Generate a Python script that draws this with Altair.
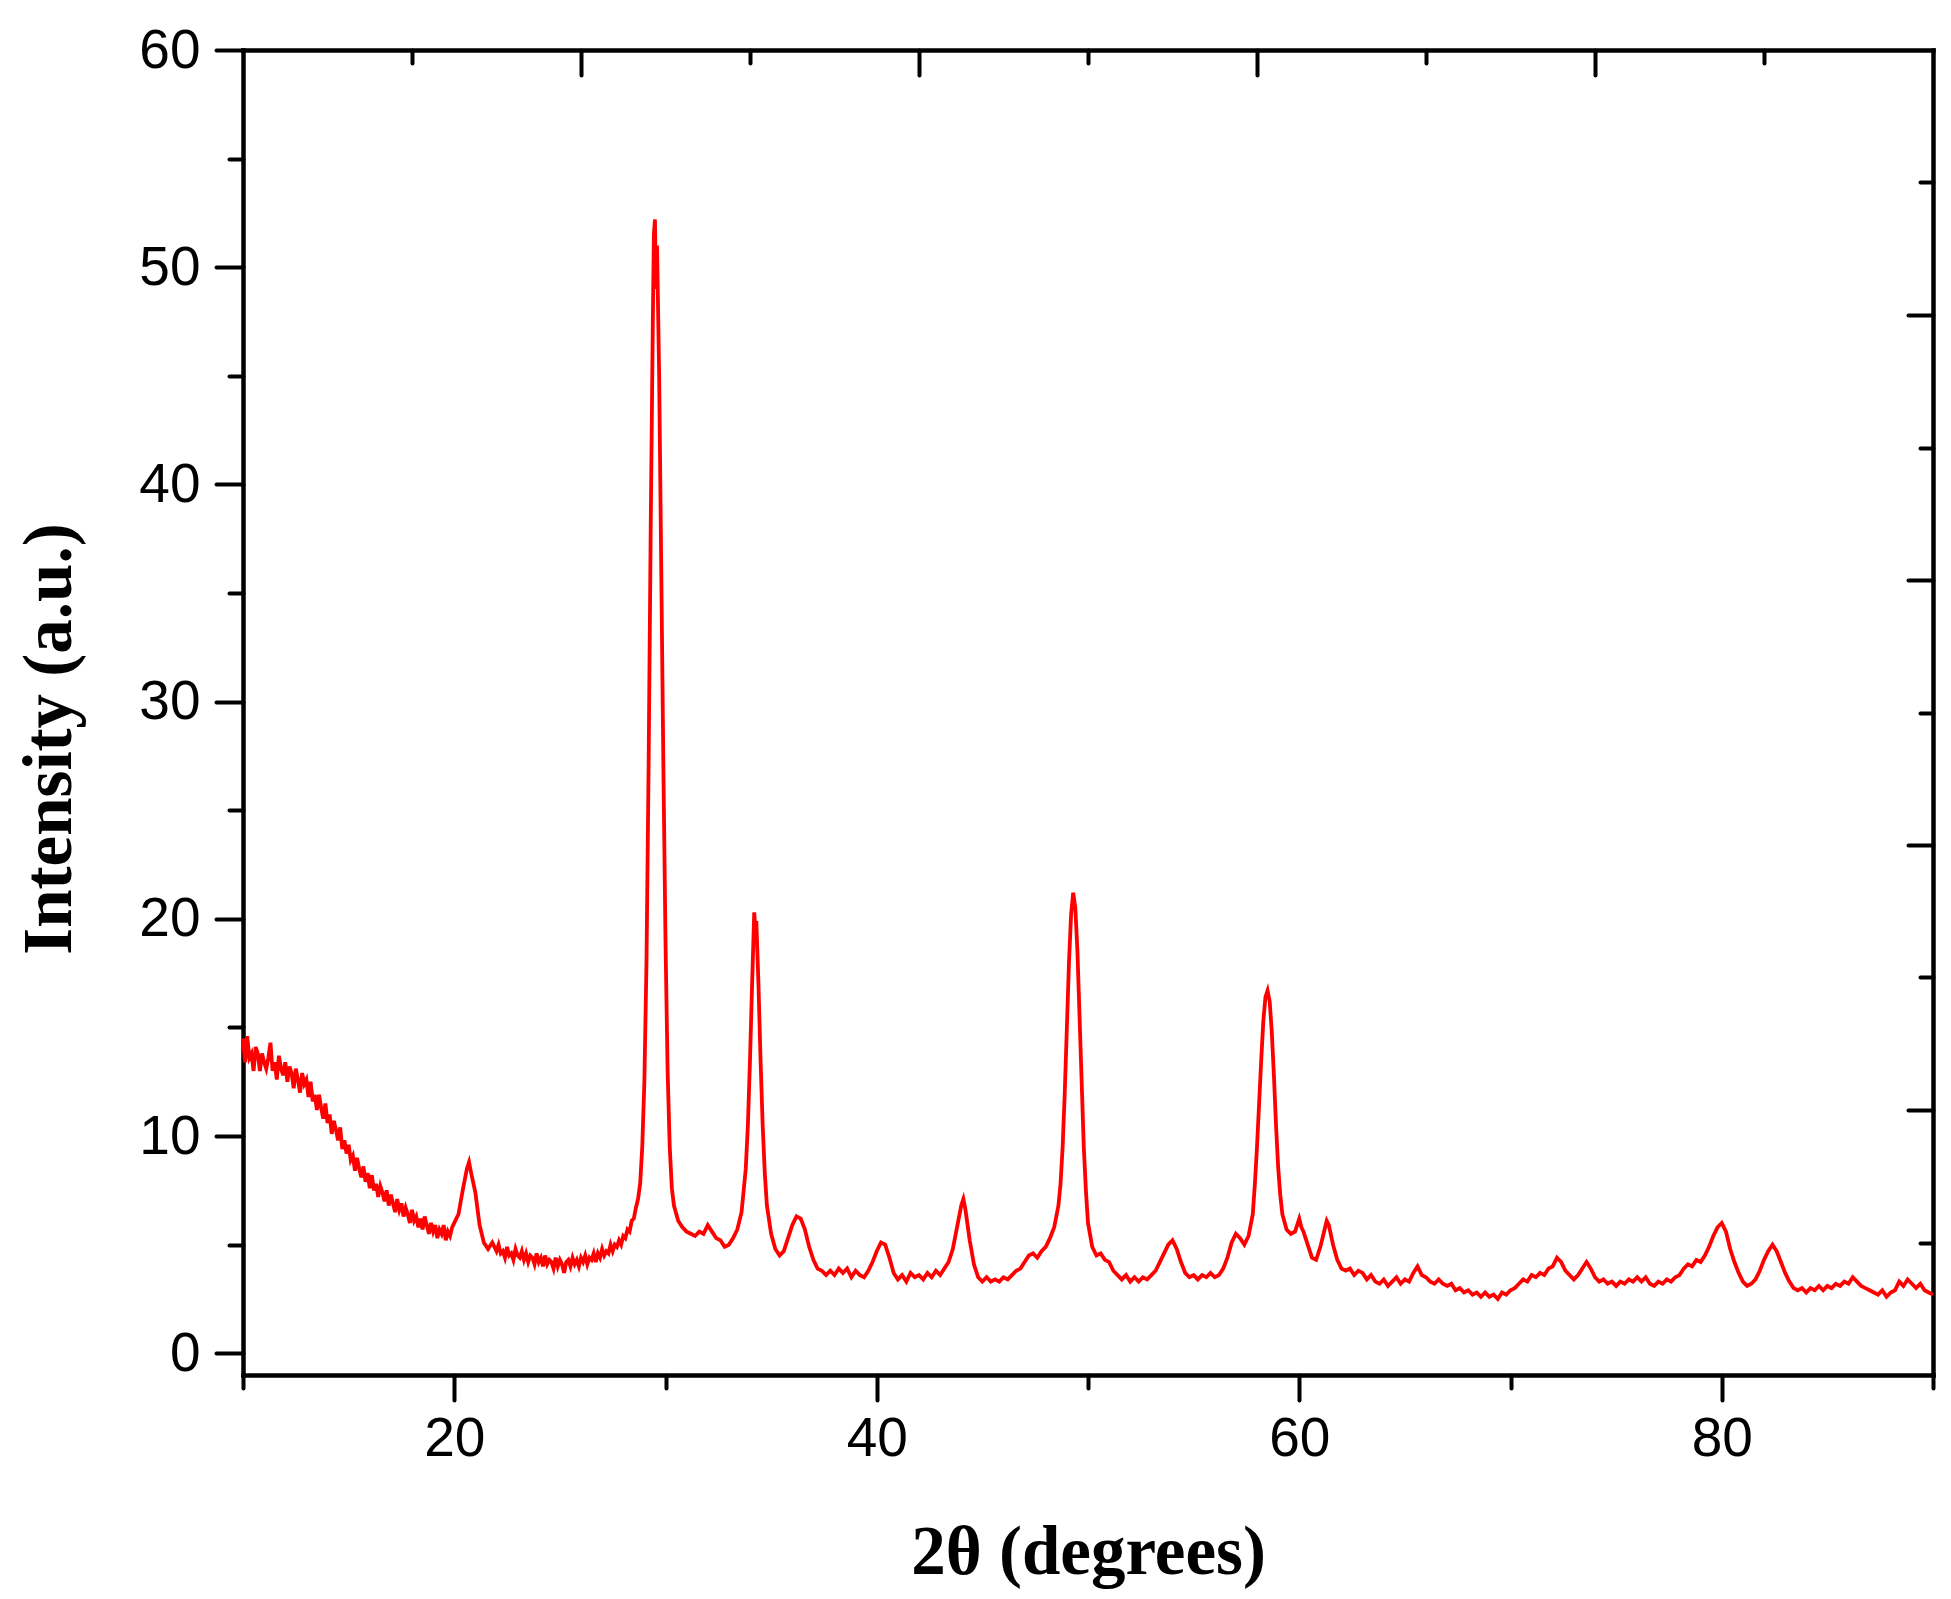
import altair as alt
import pandas as pd

# ---- data (2theta in degrees, intensity in a.u.) ----
region_10_20 = [
    (10.0, 14.5), (10.1, 13.4), (10.2, 14.6), (10.3, 13.6), (10.4, 13.8), (10.5, 13.0),
    (10.6, 14.1), (10.7, 13.8), (10.8, 13.0), (10.9, 13.8), (11.0, 13.4), (11.1, 13.1),
    (11.2, 13.6), (11.3, 14.3), (11.4, 13.0), (11.5, 13.4), (11.6, 12.6), (11.7, 13.7),
    (11.8, 13.1), (11.9, 12.8), (12.0, 13.4), (12.1, 12.5), (12.2, 13.2), (12.3, 12.9),
    (12.4, 12.2), (12.5, 13.1), (12.6, 12.6), (12.7, 12.0), (12.8, 12.9), (12.9, 12.4),
    (13.0, 12.6), (13.1, 11.8), (13.2, 12.5), (13.3, 11.6), (13.4, 11.9), (13.5, 11.2),
    (13.6, 11.9), (13.7, 11.3), (13.8, 10.8), (13.9, 11.5), (14.0, 10.6), (14.1, 11.0),
    (14.2, 10.1), (14.3, 10.7), (14.4, 10.3), (14.5, 9.8), (14.6, 10.4), (14.7, 9.4),
    (14.8, 9.8), (14.9, 9.2), (15.0, 9.6), (15.1, 8.9), (15.2, 9.1), (15.3, 8.4),
    (15.4, 9.0), (15.5, 8.5), (15.6, 8.1), (15.7, 8.6), (15.8, 7.9), (15.9, 8.3),
    (16.0, 7.6), (16.1, 8.2), (16.2, 7.5), (16.3, 7.8), (16.4, 7.2), (16.5, 7.7),
    (16.6, 7.4), (16.7, 7.0), (16.8, 7.5), (16.9, 6.8), (17.0, 7.3), (17.1, 6.9),
    (17.2, 6.5), (17.3, 7.1), (17.4, 6.6), (17.5, 6.9), (17.6, 6.3), (17.7, 6.7),
    (17.8, 6.4), (17.9, 6.0), (18.0, 6.6), (18.1, 6.1), (18.2, 6.3), (18.3, 5.8),
    (18.4, 6.2), (18.5, 5.7), (18.6, 6.3), (18.7, 5.9), (18.8, 5.5), (18.9, 6.0),
    (19.0, 5.6), (19.1, 5.9), (19.2, 5.3), (19.3, 5.7), (19.4, 5.5), (19.5, 5.9),
    (19.6, 5.2), (19.7, 5.6), (19.8, 5.4), (19.9, 5.8), (20.0, 6.0),
]
region_20_29 = [
    (20.2, 6.4), (20.4, 7.5), (20.6, 8.5), (20.7, 8.8), (20.8, 8.3), (21.0, 7.4),
    (21.2, 5.9), (21.4, 5.1), (21.6, 4.8), (21.8, 5.1), (22.0, 4.7), (22.1, 5.0),
    (22.2, 4.6), (22.3, 4.7), (22.4, 4.4), (22.5, 4.9), (22.6, 4.5), (22.7, 4.6),
    (22.8, 4.3), (22.9, 4.8), (23.0, 4.5), (23.1, 4.4), (23.2, 4.7), (23.3, 4.3),
    (23.4, 4.6), (23.5, 4.2), (23.6, 4.5), (23.7, 4.4), (23.8, 4.1), (23.9, 4.6),
    (24.0, 4.2), (24.1, 4.4), (24.2, 4.0), (24.3, 4.5), (24.4, 4.1), (24.5, 4.3),
    (24.6, 4.2), (24.7, 3.9), (24.8, 4.4), (24.9, 4.0), (25.0, 4.3), (25.1, 4.1),
    (25.2, 3.7), (25.3, 4.2), (25.4, 4.3), (25.5, 4.0), (25.6, 4.4), (25.7, 4.1),
    (25.8, 4.3), (25.9, 4.0), (26.0, 4.4), (26.1, 4.2), (26.2, 4.5), (26.3, 4.1),
    (26.4, 4.4), (26.5, 4.3), (26.6, 4.6), (26.7, 4.2), (26.8, 4.6), (26.9, 4.4),
    (27.0, 4.8), (27.1, 4.5), (27.2, 4.7), (27.3, 4.6), (27.4, 5.0), (27.5, 4.7),
    (27.6, 5.0), (27.7, 4.9), (27.8, 5.2), (27.9, 5.0), (28.0, 5.4), (28.1, 5.3),
    (28.2, 5.7), (28.3, 5.6), (28.4, 6.1), (28.5, 6.2), (28.6, 6.7), (28.7, 7.1),
    (28.8, 7.8),
]
region_29_40 = [
    (28.9, 9.5), (29.0, 12.5), (29.1, 18.0), (29.2, 27.0), (29.3, 38.0), (29.4, 47.5),
    (29.45, 51.5), (29.5, 52.2), (29.55, 49.0), (29.6, 51.0), (29.7, 45.0), (29.8, 36.0),
    (29.9, 27.0), (30.0, 19.0), (30.1, 13.0), (30.2, 9.5), (30.3, 7.6), (30.4, 6.8),
    (30.6, 6.1), (30.8, 5.8), (31.0, 5.6), (31.2, 5.5), (31.4, 5.4), (31.6, 5.6),
    (31.8, 5.5), (32.0, 5.9), (32.2, 5.6), (32.4, 5.3), (32.6, 5.2), (32.8, 4.9),
    (33.0, 5.0), (33.2, 5.3), (33.4, 5.7), (33.6, 6.5), (33.8, 8.5), (33.9, 10.5),
    (34.0, 13.5), (34.1, 17.0), (34.2, 20.3), (34.25, 19.6), (34.3, 19.9), (34.4, 17.0),
    (34.5, 13.5), (34.6, 10.5), (34.7, 8.3), (34.8, 6.8), (35.0, 5.5), (35.2, 4.8),
    (35.4, 4.5), (35.6, 4.7), (35.8, 5.3), (36.0, 5.9), (36.2, 6.3), (36.4, 6.2),
    (36.6, 5.7), (36.8, 4.9), (37.0, 4.3), (37.2, 3.9), (37.4, 3.8), (37.6, 3.6),
    (37.8, 3.8), (38.0, 3.6), (38.2, 3.9), (38.4, 3.7), (38.6, 3.9), (38.8, 3.5),
    (39.0, 3.8), (39.2, 3.6), (39.4, 3.5), (39.6, 3.8), (39.8, 4.2),
]
region_40_50 = [
    (40.0, 4.7), (40.2, 5.1), (40.4, 5.0), (40.6, 4.4), (40.8, 3.7), (41.0, 3.4),
    (41.2, 3.6), (41.4, 3.3), (41.6, 3.7), (41.8, 3.5), (42.0, 3.6), (42.2, 3.4),
    (42.4, 3.7), (42.6, 3.5), (42.8, 3.8), (43.0, 3.6), (43.2, 3.9), (43.4, 4.2),
    (43.6, 4.8), (43.8, 5.8), (44.0, 6.8), (44.1, 7.1), (44.2, 6.6), (44.4, 5.2),
    (44.6, 4.1), (44.8, 3.5), (45.0, 3.3), (45.2, 3.5), (45.4, 3.3), (45.6, 3.4),
    (45.8, 3.3), (46.0, 3.5), (46.2, 3.4), (46.4, 3.6), (46.6, 3.8), (46.8, 3.9),
    (47.0, 4.2), (47.2, 4.5), (47.4, 4.6), (47.6, 4.4), (47.8, 4.7), (48.0, 4.9),
    (48.2, 5.3), (48.4, 5.8), (48.6, 6.8), (48.7, 7.8), (48.8, 9.5), (48.9, 12.0),
    (49.0, 15.0), (49.1, 18.0), (49.2, 20.2), (49.3, 21.2), (49.4, 20.5), (49.5, 18.5),
    (49.6, 15.5), (49.7, 12.5), (49.8, 9.5), (49.9, 7.5),
]
region_50_62 = [
    (50.0, 6.0), (50.2, 4.9), (50.4, 4.5), (50.6, 4.6), (50.8, 4.3), (51.0, 4.2),
    (51.2, 3.8), (51.4, 3.6), (51.6, 3.4), (51.8, 3.6), (52.0, 3.3), (52.2, 3.5),
    (52.4, 3.3), (52.6, 3.5), (52.8, 3.4), (53.0, 3.6), (53.2, 3.8), (53.4, 4.2),
    (53.6, 4.6), (53.8, 5.0), (54.0, 5.2), (54.2, 4.8), (54.4, 4.2), (54.6, 3.7),
    (54.8, 3.5), (55.0, 3.6), (55.2, 3.4), (55.4, 3.6), (55.6, 3.5), (55.8, 3.7),
    (56.0, 3.5), (56.2, 3.6), (56.4, 3.9), (56.6, 4.4), (56.8, 5.1), (57.0, 5.5),
    (57.2, 5.3), (57.4, 5.0), (57.6, 5.4), (57.8, 6.4), (57.9, 7.8), (58.0, 9.5),
    (58.1, 11.5), (58.2, 13.5), (58.3, 15.3), (58.4, 16.4), (58.5, 16.7), (58.6, 16.2),
    (58.7, 14.8), (58.8, 12.8), (58.9, 10.5), (59.0, 8.6), (59.1, 7.3), (59.2, 6.4),
    (59.4, 5.7), (59.6, 5.5), (59.8, 5.6), (60.0, 6.2), (60.1, 5.8), (60.2, 5.6),
    (60.4, 5.0), (60.6, 4.4), (60.8, 4.3), (61.0, 4.9), (61.2, 5.7), (61.3, 6.1),
    (61.4, 5.9), (61.6, 5.0), (61.8, 4.3),
]
region_62_76 = [
    (62.0, 3.9), (62.2, 3.8), (62.4, 3.9), (62.6, 3.6), (62.8, 3.8), (63.0, 3.7),
    (63.2, 3.4), (63.4, 3.6), (63.6, 3.3), (63.8, 3.2), (64.0, 3.4), (64.2, 3.1),
    (64.4, 3.3), (64.6, 3.5), (64.8, 3.2), (65.0, 3.4), (65.2, 3.3), (65.4, 3.7),
    (65.6, 4.0), (65.8, 3.6), (66.0, 3.5), (66.2, 3.3), (66.4, 3.2), (66.6, 3.4),
    (66.8, 3.2), (67.0, 3.1), (67.2, 3.2), (67.4, 2.9), (67.6, 3.0), (67.8, 2.8),
    (68.0, 2.9), (68.2, 2.7), (68.4, 2.8), (68.6, 2.6), (68.8, 2.8), (69.0, 2.6),
    (69.2, 2.7), (69.4, 2.5), (69.6, 2.8), (69.8, 2.7), (70.0, 2.9), (70.2, 3.0),
    (70.4, 3.2), (70.6, 3.4), (70.8, 3.3), (71.0, 3.6), (71.2, 3.5), (71.4, 3.7),
    (71.6, 3.6), (71.8, 3.9), (72.0, 4.0), (72.2, 4.4), (72.4, 4.2), (72.6, 3.8),
    (72.8, 3.6), (73.0, 3.4), (73.2, 3.6), (73.4, 3.9), (73.6, 4.2), (73.8, 3.9),
    (74.0, 3.5), (74.2, 3.3), (74.4, 3.4), (74.6, 3.2), (74.8, 3.3), (75.0, 3.1),
    (75.2, 3.3), (75.4, 3.2), (75.6, 3.4), (75.8, 3.3),
]
region_76_90 = [
    (76.0, 3.5), (76.2, 3.3), (76.4, 3.5), (76.6, 3.2), (76.8, 3.1), (77.0, 3.3),
    (77.2, 3.2), (77.4, 3.4), (77.6, 3.3), (77.8, 3.5), (78.0, 3.6), (78.2, 3.9),
    (78.4, 4.1), (78.6, 4.0), (78.8, 4.3), (79.0, 4.2), (79.2, 4.5), (79.4, 4.9),
    (79.6, 5.4), (79.8, 5.8), (80.0, 6.0), (80.2, 5.6), (80.4, 4.8), (80.6, 4.2),
    (80.8, 3.7), (81.0, 3.3), (81.2, 3.1), (81.4, 3.2), (81.6, 3.4), (81.8, 3.8),
    (82.0, 4.3), (82.2, 4.7), (82.4, 5.0), (82.6, 4.7), (82.8, 4.2), (83.0, 3.7),
    (83.2, 3.3), (83.4, 3.0), (83.6, 2.9), (83.8, 3.0), (84.0, 2.8), (84.2, 3.0),
    (84.4, 2.9), (84.6, 3.1), (84.8, 2.9), (85.0, 3.1), (85.2, 3.0), (85.4, 3.2),
    (85.6, 3.1), (85.8, 3.3), (86.0, 3.2), (86.2, 3.5), (86.4, 3.3), (86.6, 3.1),
    (86.8, 3.0), (87.0, 2.9), (87.2, 2.8), (87.4, 2.7), (87.6, 2.9), (87.8, 2.6),
    (88.0, 2.8), (88.2, 2.9), (88.4, 3.3), (88.6, 3.1), (88.8, 3.4), (89.0, 3.2),
    (89.2, 3.0), (89.4, 3.2), (89.6, 2.9), (89.8, 2.8), (90.0, 2.7),
]

x_ticks = [10, 20, 30, 40, 50, 60, 70, 80, 90]
y_ticks = [0, 5, 10, 15, 20, 25, 30, 35, 40, 45, 50, 55, 60]
frame_ticks = [1, 2, 3, 4, 5, 6, 7, 8, 9]
frame_range = [0, 10]

points = (region_10_20 + region_20_29 + region_29_40 + region_40_50
          + region_50_62 + region_62_76 + region_76_90)
df = pd.DataFrame(points, columns=["two_theta", "intensity"])
frame_df = pd.DataFrame({"f": frame_range})

W, H = 1690, 1325
TICK_FONT = "Liberation Sans"
TITLE_FONT = "Liberation Serif"

line = alt.Chart(df).mark_line(color="#ff0000", strokeWidth=3.8).encode(
    x=alt.X(
        "two_theta:Q",
        scale=alt.Scale(domain=[10, 90], nice=False, zero=False),
        axis=alt.Axis(
            orient="bottom", values=x_ticks, title="2θ (degrees)",
            labelExpr="datum.value % 20 === 0 ? datum.label : ''",
            tickSize={"condition": {"test": "datum.value % 20 === 0", "value": 25}, "value": 13},
            labelPadding=12, titlePadding=52,
        ),
    ),
    y=alt.Y(
        "intensity:Q",
        scale=alt.Scale(domain=[-1, 60], nice=False, zero=False),
        axis=alt.Axis(
            orient="left", values=y_ticks, title="Intensity (a.u.)",
            labelExpr="datum.value % 10 === 0 ? datum.label : ''",
            tickSize={"condition": {"test": "datum.value % 10 === 0", "value": 27}, "value": 14},
            labelPadding=16, titlePadding=54, titleY=H / 2 + 26,
        ),
    ),
)

frame = alt.Chart(frame_df).mark_point(opacity=0).encode(
    x=alt.X(
        "f:Q",
        scale=alt.Scale(domain=frame_range, nice=False, zero=False),
        axis=alt.Axis(
            orient="bottom", offset=-H, values=frame_ticks, labels=False, title=None,
            tickSize={"condition": {"test": "datum.value % 2 === 0", "value": 25}, "value": 13},
        ),
    ),
    y=alt.Y(
        "f:Q",
        scale=alt.Scale(domain=frame_range, nice=False, zero=False),
        axis=alt.Axis(
            orient="left", offset=-W, values=frame_ticks, labels=False, title=None,
            tickSize={"condition": {"test": "datum.value % 2 === 0", "value": 25}, "value": 13},
        ),
    ),
)

chart = alt.layer(line, frame).resolve_scale(
    x="independent", y="independent"
).properties(
    width=W, height=H,
    autosize=alt.AutoSizeParams(type="none"),
    padding={"left": 235, "top": 42, "right": 10, "bottom": 216},
).configure_view(stroke=None).configure_axis(
    grid=False,
    domainColor="black", domainWidth=4.5, domainCap="square",
    tickColor="black", tickWidth=4, tickCap="round",
    labelFont=TICK_FONT, labelFontSize=55, labelColor="black",
    titleFont=TITLE_FONT, titleFontSize=69, titleFontWeight="bold", titleColor="black",
)

chart.save("out.html", embed_options={"renderer": "svg", "actions": False})
